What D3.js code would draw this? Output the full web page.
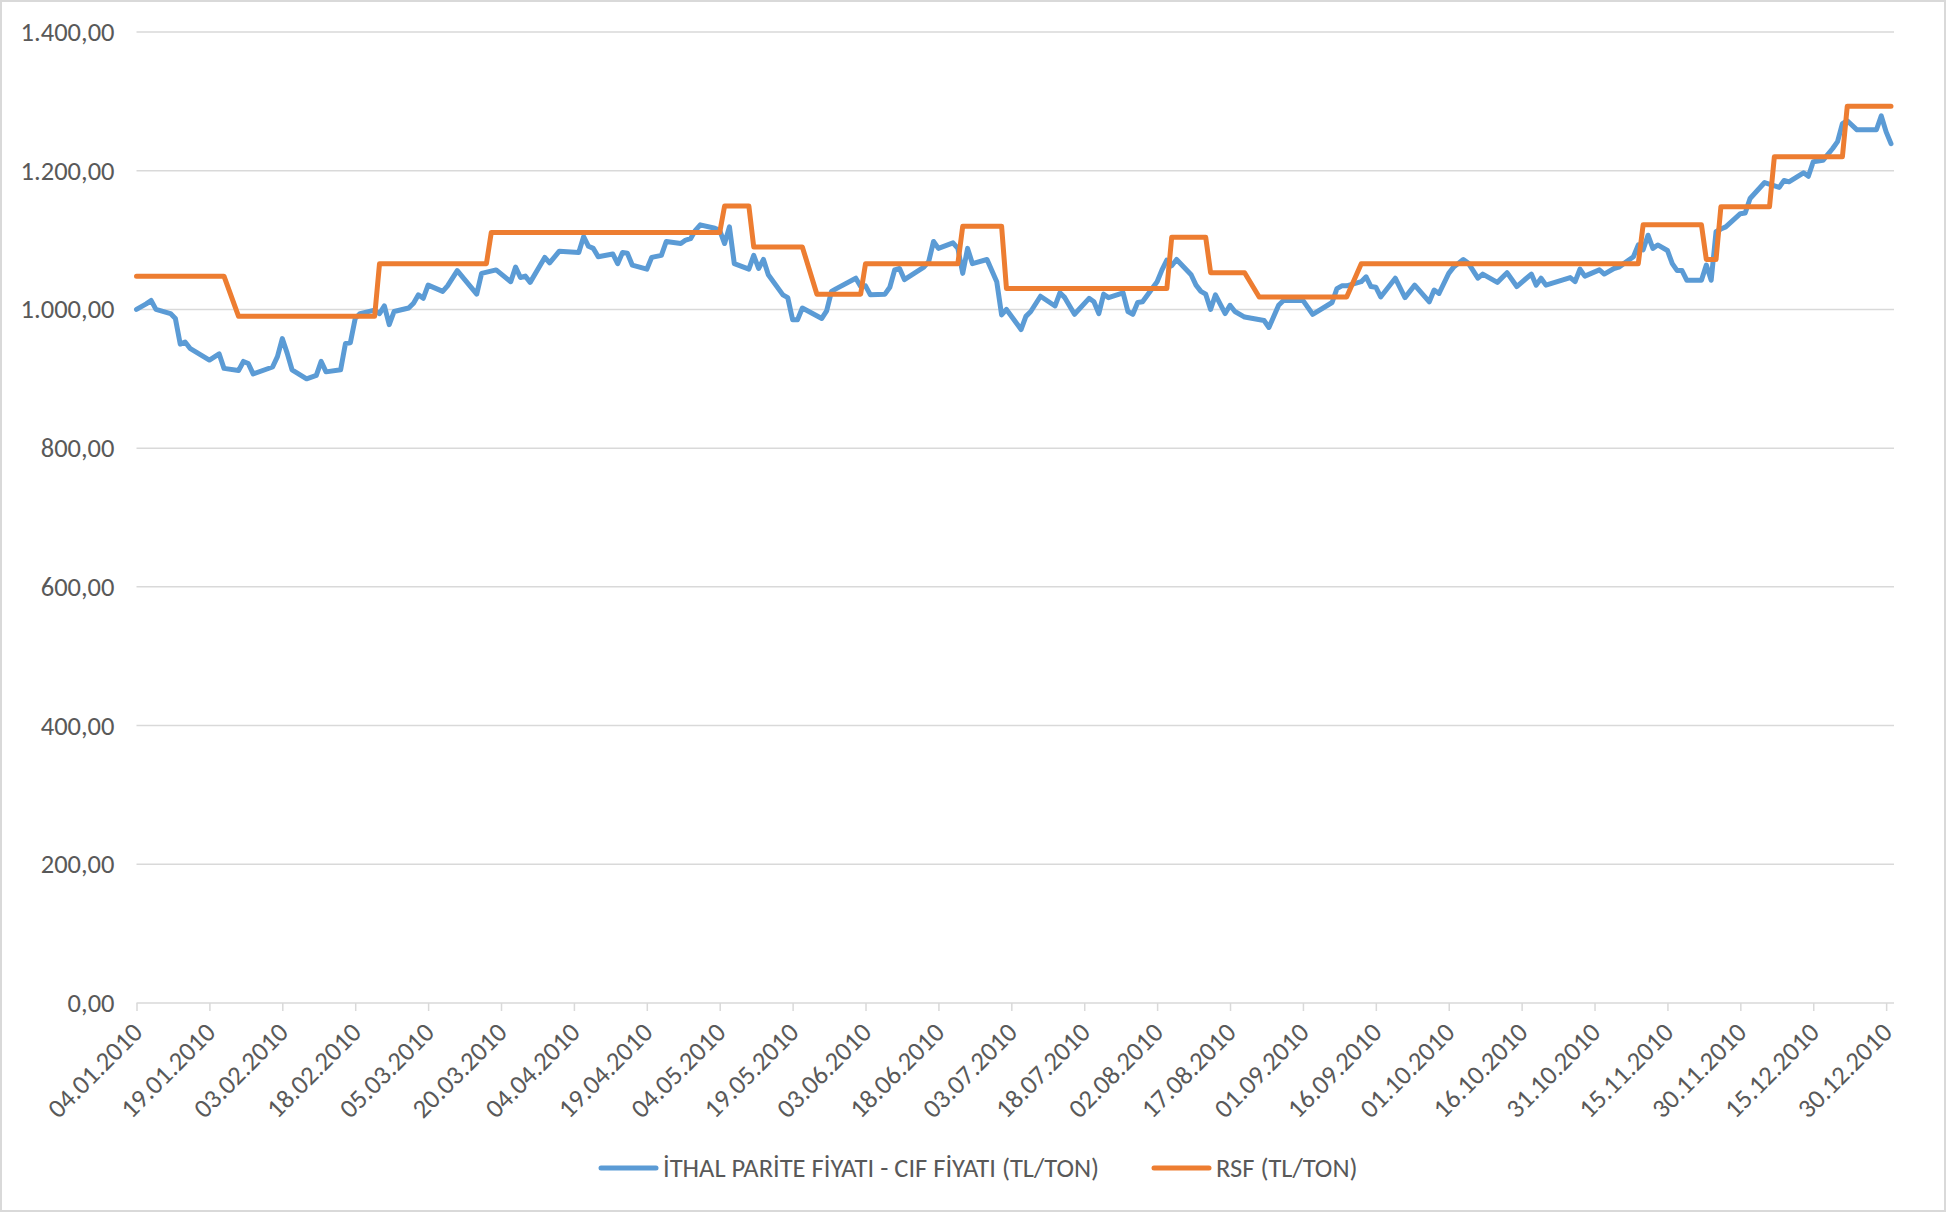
<!DOCTYPE html>
<html>
<head>
<meta charset="utf-8">
<script src="https://cdn.jsdelivr.net/npm/d3@7"></script>
<style>
  body { margin: 0; background: #fff; }
  svg text { font-family: Carlito, "Liberation Sans Narrow", "Liberation Sans", sans-serif; fill: #595959; }
</style>
</head>
<body>
<svg id="chart" width="1946" height="1212"></svg>
<script>
// Data (2010, daily prices, TL/TON)
const cifDates = ["04.01","06.01","07.01","08.01","11.01","12.01","13.01","14.01","15.01","19.01",
  "21.01","22.01","25.01","26.01","27.01","28.01","01.02","02.02","03.02","04.02",
  "05.02","08.02","10.02","11.02","12.02","15.02","16.02","17.02","18.02","19.02",
  "22.02","23.02","24.02","25.02","26.02","01.03","02.03","03.03","04.03","05.03",
  "08.03","09.03","11.03","15.03","16.03","19.03","22.03","23.03","24.03","25.03",
  "26.03","29.03","30.03","01.04","05.04","06.04","07.04","08.04","09.04","12.04",
  "13.04","14.04","15.04","16.04","19.04","20.04","22.04","23.04","26.04","27.04",
  "28.04","29.04","30.04","03.05","04.05","05.05","06.05","07.05","10.05","11.05",
  "12.05","13.05","14.05","17.05","18.05","19.05","20.05","21.05","25.05","26.05",
  "27.05","28.05","01.06","02.06","03.06","04.06","07.06","08.06","09.06","10.06",
  "11.06","15.06","16.06","17.06","18.06","21.06","22.06","23.06","24.06","25.06",
  "28.06","30.06","01.07","02.07","05.07","06.07","07.07","09.07","12.07","13.07",
  "14.07","16.07","19.07","20.07","21.07","22.07","23.07","26.07","27.07","28.07",
  "29.07","30.07","02.08","03.08","04.08","05.08","06.08","09.08","10.08","11.08",
  "12.08","13.08","14.08","16.08","17.08","18.08","20.08","24.08","25.08","27.08",
  "28.08","01.09","03.09","07.09","08.09","09.09","10.09","13.09","14.09","15.09",
  "16.09","17.09","20.09","22.09","24.09","27.09","28.09","29.09","01.10","02.10",
  "04.10","05.10","07.10","08.10","11.10","13.10","15.10","18.10","19.10","20.10",
  "21.10","26.10","27.10","28.10","29.10","01.11","02.11","04.11","05.11","08.11",
  "09.11","10.11","11.11","12.11","13.11","15.11","16.11","17.11","18.11","19.11",
  "22.11","23.11","24.11","25.11","26.11","27.11","30.11","01.12","02.12","05.12",
  "08.12","09.12","10.12","13.12","14.12","15.12","17.12","19.12","20.12","21.12",
  "22.12","24.12","28.12","29.12","30.12","31.12"];
const cifValues = [1000,1008,1013,1000,994,987,950,953,944,927,
  936,915,912,925,922,907,917,932,958,937,
  913,900,905,925,910,913,951,952,987,994,
  999,994,1005,978,997,1002,1009,1021,1016,1035,
  1026,1034,1056,1022,1052,1057,1040,1061,1046,1048,
  1039,1075,1067,1084,1082,1105,1091,1088,1076,1080,
  1066,1082,1081,1064,1058,1075,1078,1098,1095,1100,
  1102,1114,1122,1117,1114,1095,1119,1066,1058,1078,
  1059,1072,1050,1021,1017,985,985,1002,987,998,
  1026,1030,1045,1033,1034,1021,1022,1032,1057,1059,
  1043,1061,1069,1098,1088,1096,1088,1052,1088,1066,
  1072,1040,992,1000,971,990,997,1019,1005,1024,
  1017,993,1016,1011,994,1022,1017,1024,997,993,
  1010,1011,1040,1057,1071,1063,1072,1050,1035,1026,
  1022,1000,1021,994,1006,997,989,984,974,1006,
  1013,1013,993,1010,1030,1034,1034,1040,1047,1033,
  1032,1018,1045,1017,1035,1011,1028,1023,1052,1061,
  1072,1067,1045,1051,1039,1053,1033,1051,1035,1045,
  1035,1046,1040,1058,1048,1057,1051,1059,1061,1076,
  1093,1086,1107,1088,1093,1085,1066,1056,1056,1042,
  1042,1064,1042,1112,1116,1119,1138,1139,1160,1183,
  1176,1186,1184,1197,1192,1213,1215,1232,1242,1268,
  1272,1259,1259,1279,1256,1239];

const rsfDates = ["04.01","22.01","25.01","22.02","23.02","17.03","18.03","04.05","05.05","10.05",
  "11.05","21.05","24.05","02.06","03.06","22.06","23.06","01.07","02.07","04.08",
  "05.08","12.08","13.08","20.08","23.08","10.09","13.09","09.11","10.11","22.11",
  "23.11","25.11","26.11","06.12","07.12","21.12","22.12","31.12"];
const rsfValues = [1048,1048,990,990,1066,1066,1111,1111,1149,1149,
  1090,1090,1022,1022,1066,1066,1120,1120,1030,1030,
  1104,1104,1053,1053,1018,1018,1066,1066,1122,1122,
  1072,1072,1148,1148,1220,1220,1293,1293];

const xTickLabels = ["04.01.2010","19.01.2010","03.02.2010","18.02.2010","05.03.2010","20.03.2010",
  "04.04.2010","19.04.2010","04.05.2010","19.05.2010","03.06.2010","18.06.2010","03.07.2010",
  "18.07.2010","02.08.2010","17.08.2010","01.09.2010","16.09.2010","01.10.2010","16.10.2010",
  "31.10.2010","15.11.2010","30.11.2010","15.12.2010","30.12.2010"];
const yTicks = [0, 200, 400, 600, 800, 1000, 1200, 1400];

const seriesNames = ["İTHAL PARİTE FİYATI - CIF FİYATI (TL/TON)", "RSF (TL/TON)"];
const seriesColors = ["#5b9bd5", "#ed7d31"];

// Setup
const width = 1946;
const height = 1212;
const fontSize = "26.5px";
const parseDay = d3.timeParse("%d.%m.%Y");
const trFormat = d3.formatLocale({ decimal: ",", thousands: ".", grouping: [3], currency: ["", " TL"] }).format(",.2f");

const svg = d3.select("#chart");

svg.append("rect")
  .attr("x", 1).attr("y", 1)
  .attr("width", width - 2).attr("height", height - 2)
  .attr("fill", "#fff")
  .attr("stroke", "#d9d9d9")
  .attr("stroke-width", 2);

const x = d3.scaleTime()
  .domain([parseDay("04.01.2010"), parseDay("31.12.2010")])
  .range([136.5, 1891]);

const y = d3.scaleLinear()
  .domain([0, 1400])
  .range([1003, 32]);

// Gridlines
svg.append("g")
  .selectAll("line")
  .data(yTicks.filter((d) => d > 0))
  .enter()
  .append("line")
  .attr("x1", x.range()[0])
  .attr("x2", x.range()[1] + 3)
  .attr("y1", (d) => y(d))
  .attr("y2", (d) => y(d))
  .attr("stroke", "#d9d9d9")
  .attr("stroke-width", 1.5);

// Y axis labels
const yAxis = svg.append("g")
  .attr("transform", `translate(${x.range()[0]},0)`)
  .call(d3.axisLeft(y).tickValues(yTicks).tickFormat(trFormat).tickSize(0).tickPadding(22));
yAxis.select(".domain").remove();
yAxis.selectAll("text")
  .style("font-size", fontSize)
  .attr("fill", "#595959");

// X axis
const tickDates = xTickLabels.map(parseDay);
const xAxis = svg.append("g")
  .attr("transform", `translate(0,${y(0)})`)
  .call(d3.axisBottom(x).tickValues(tickDates).tickFormat(d3.timeFormat("%d.%m.%Y")).tickSize(8).tickPadding(4));
xAxis.select(".domain")
  .attr("d", `M${x.range()[0]},0H${x.range()[1] + 3}`)
  .attr("stroke", "#d9d9d9")
  .attr("stroke-width", 1.5);
xAxis.selectAll(".tick line")
  .attr("stroke", "#d9d9d9")
  .attr("stroke-width", 1.5);
xAxis.selectAll("text")
  .style("font-size", fontSize)
  .attr("fill", "#595959")
  .attr("text-anchor", "end")
  .attr("dy", "0.35em")
  .attr("transform", "translate(-8,16) rotate(-45)");

// Lines
const line = d3.line()
  .x((d) => x(d[0]))
  .y((d) => y(d[1]));

const cifPoints = cifDates.map((d, i) => [parseDay(d + ".2010"), cifValues[i]]);
const rsfPoints = rsfDates.map((d, i) => [parseDay(d + ".2010"), rsfValues[i]]);

svg.append("path")
  .datum(cifPoints)
  .attr("d", line)
  .attr("fill", "none")
  .attr("stroke", seriesColors[0])
  .attr("stroke-width", 5)
  .attr("stroke-linejoin", "round")
  .attr("stroke-linecap", "round");

svg.append("path")
  .datum(rsfPoints)
  .attr("d", line)
  .attr("fill", "none")
  .attr("stroke", seriesColors[1])
  .attr("stroke-width", 5)
  .attr("stroke-linejoin", "round")
  .attr("stroke-linecap", "round");

// Legend
const legendY = 1168;
const legendItems = [
  { name: seriesNames[0], color: seriesColors[0], x: 601 },
  { name: seriesNames[1], color: seriesColors[1], x: 1154 }
];
const legend = svg.append("g");
legendItems.forEach((item) => {
  legend.append("line")
    .attr("x1", item.x).attr("x2", item.x + 55)
    .attr("y1", legendY).attr("y2", legendY)
    .attr("stroke", item.color)
    .attr("stroke-width", 5)
    .attr("stroke-linecap", "round");
  legend.append("text")
    .attr("x", item.x + 62)
    .attr("y", legendY)
    .attr("dy", "0.35em")
    .style("font-size", fontSize)
    .text(item.name);
});
</script>
</body>
</html>
